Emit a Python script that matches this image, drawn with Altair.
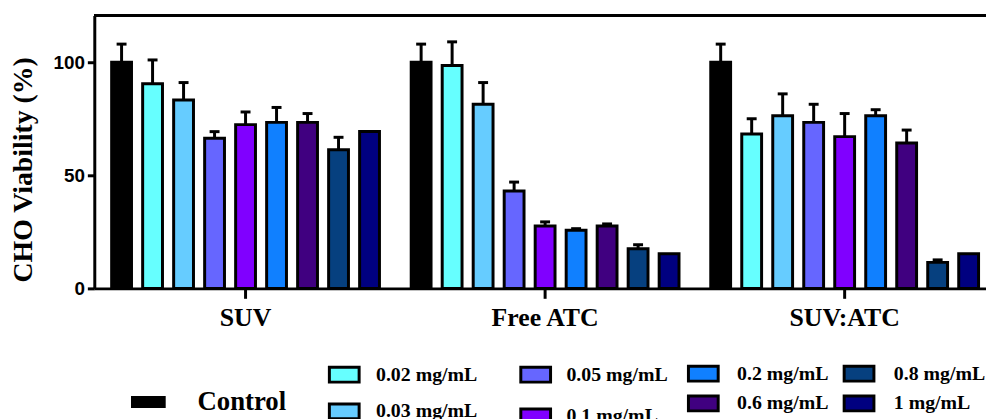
import altair as alt
import pandas as pd

groups = ["SUV", "Free ATC", "SUV:ATC"]
doses = ["Control", "0.02 mg/mL", "0.03 mg/mL", "0.05 mg/mL", "0.1 mg/mL",
         "0.2 mg/mL", "0.6 mg/mL", "0.8 mg/mL", "1 mg/mL"]
colors = ["#000000", "#66FFFF", "#66CCFF", "#6666FF", "#8000FF",
          "#1080FF", "#400080", "#06407F", "#000080"]

suv_mean = [100, 90.5, 83.3, 66.4, 72.4, 73.4, 73.4, 61.3, 69.4]
suv_err = [8, 10.5, 7.7, 2.9, 5.6, 6.6, 3.9, 5.5, 0]
free_mean = [100, 98.5, 81.4, 43.1, 27.6, 25.7, 27.6, 17.5, 15.3]
free_err = [8, 10.5, 9.6, 3.9, 1.8, 0.7, 0.9, 1.8, 0]
combo_mean = [100, 68.3, 76.3, 73.4, 67.1, 76.3, 64.3, 11.5, 15.3]
combo_err = [8, 6.7, 9.7, 8, 10.2, 2.7, 5.7, 1.1, 0]

rows = []
for g, means, errs in zip(groups, [suv_mean, free_mean, combo_mean],
                          [suv_err, free_err, combo_err]):
    for d, m, e in zip(doses, means, errs):
        rows.append({"group": g, "dose": d, "mean": m, "err": e, "upper": m + e})
df = pd.DataFrame(rows)

W, H = 899, 275

x_enc = alt.X("group:N", sort=groups,
              scale=alt.Scale(paddingInner=0.106, paddingOuter=0.0414, align=0.7),
              axis=alt.Axis(title=None, labelAngle=0, labelFont="Liberation Serif",
                            labelFontSize=26, labelFontWeight="bold", tickSize=10,
                            labelPadding=6))
xoff = alt.XOffset("dose:N", sort=doses,
                   scale=alt.Scale(domain=doses, paddingInner=0.36, paddingOuter=0))
y_axis = alt.Axis(values=[0, 50, 100], title="CHO Viability (%)",
                  labelFont="Liberation Sans", labelFontSize=19, labelFontWeight="bold",
                  tickSize=7, labelPadding=3,
                  titleFont="Liberation Serif", titleFontSize=28, titleFontWeight="bold",
                  titleX=-63, titleY=155, titleBaseline="alphabetic", titleAlign="center",
                  titleAngle=270)
y_scale = alt.Scale(domain=[0, 120.6], nice=False, zero=True)

rect_path = "M-2,-1H2V1H-2Z"
legend_sets = [
    (["Control"], dict(legendX=41, legendY=376, symbolType="M-2,-0.686H2V0.686H-2Z",
                       symbolSize=306, symbolStrokeWidth=0, labelFontSize=27,
                       labelOffset=36, rowPadding=0)),
    (["0.02 mg/mL", "0.03 mg/mL"], dict(legendX=242, legendY=352, symbolType=rect_path,
                                        symbolSize=225, symbolStrokeWidth=3,
                                        labelFontSize=20, labelOffset=22, rowPadding=9)),
    (["0.05 mg/mL", "0.1 mg/mL"], dict(legendX=435, legendY=352, symbolType=rect_path,
                                       symbolSize=225, symbolStrokeWidth=3,
                                       labelFontSize=20, labelOffset=21, rowPadding=14)),
    (["0.2 mg/mL", "0.6 mg/mL"], dict(legendX=604, legendY=351, symbolType=rect_path,
                                      symbolSize=225, symbolStrokeWidth=3,
                                      labelFontSize=20, labelOffset=24, rowPadding=2)),
    (["0.8 mg/mL", "1 mg/mL"], dict(legendX=761, legendY=351, symbolType=rect_path,
                                    symbolSize=225, symbolStrokeWidth=3,
                                    labelFontSize=20, labelOffset=25, rowPadding=2)),
]

bar_layers = []
for subset, lg in legend_sets:
    sub_colors = [colors[doses.index(d)] for d in subset]
    legend = alt.Legend(orient="none", title=None, padding=0,
                        symbolStrokeColor="black", labelFont="Liberation Serif",
                        labelFontWeight="bold", labelColor="black", labelLimit=400,
                        **lg)
    bar_layers.append(
        alt.Chart(df)
        .transform_filter(alt.FieldOneOfPredicate(field="dose", oneOf=subset))
        .mark_bar(stroke="black", strokeWidth=3)
        .encode(
            x=x_enc, xOffset=xoff,
            y=alt.Y("mean:Q", scale=y_scale, axis=y_axis),
            color=alt.Color("dose:N", scale=alt.Scale(domain=subset, range=sub_colors),
                            legend=legend),
        )
    )

err_base = alt.Chart(df).transform_filter("datum.err > 0")
err_rule = err_base.mark_rule(color="black", strokeWidth=3).encode(
    x=x_enc, xOffset=xoff,
    y=alt.Y("mean:Q", scale=y_scale, axis=y_axis), y2="upper:Q")
err_cap = err_base.mark_point(shape="M-1,0H1", size=100, filled=False, color="black",
                              strokeWidth=3, opacity=1).encode(
    x=x_enc, xOffset=xoff,
    y=alt.Y("upper:Q", scale=y_scale, axis=y_axis))

top_line = alt.Chart(df).mark_rule(color="black", strokeWidth=3).encode(
    x=alt.value(0), x2=alt.value(W), y=alt.value(0))

chart = (
    alt.layer(top_line, *bar_layers, err_rule, err_cap)
    .resolve_scale(color="independent")
    .properties(width=W, height=H,
                autosize=alt.AutoSizeParams(type="none"),
                padding={"left": 87, "top": 6, "right": 0, "bottom": 130})
    .configure_view(strokeWidth=0)
    .configure_axis(domainColor="black", domainWidth=3, tickColor="black",
                    tickWidth=3, grid=False, labelColor="black", titleColor="black")
)

chart.save("out.html", embed_options={"renderer": "svg", "actions": False})
